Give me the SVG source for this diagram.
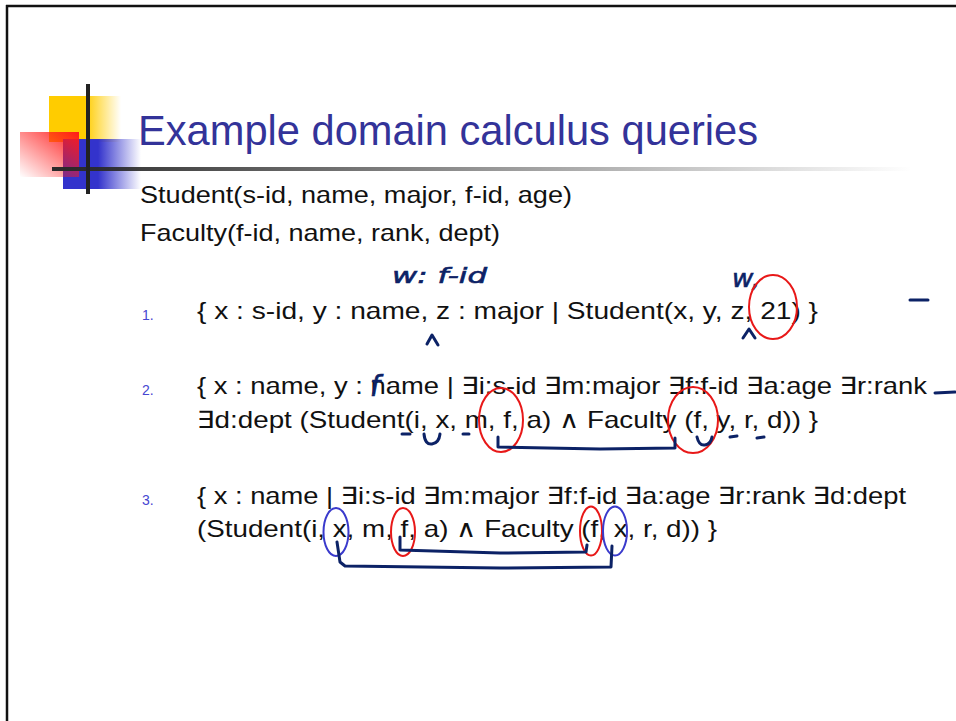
<svg xmlns="http://www.w3.org/2000/svg" width="956" height="721" viewBox="0 0 956 721">
  <defs>
    <linearGradient id="gYellow" x1="0" y1="0" x2="1" y2="0">
      <stop offset="0" stop-color="#ffcc00"/>
      <stop offset="0.5" stop-color="#ffcc00"/>
      <stop offset="1" stop-color="#ffcc00" stop-opacity="0"/>
    </linearGradient>
    <linearGradient id="gBlue" x1="0" y1="0" x2="1" y2="0">
      <stop offset="0" stop-color="#3333cc"/>
      <stop offset="0.45" stop-color="#3333cc"/>
      <stop offset="1" stop-color="#3333cc" stop-opacity="0"/>
    </linearGradient>
    <linearGradient id="gRed" x1="1" y1="0" x2="0" y2="1">
      <stop offset="0" stop-color="#ff1a1a"/>
      <stop offset="1" stop-color="#ff1a1a" stop-opacity="0"/>
    </linearGradient>
    <linearGradient id="gRule" x1="0" y1="0" x2="1" y2="0">
      <stop offset="0" stop-color="#2a2a2a"/>
      <stop offset="1" stop-color="#2a2a2a" stop-opacity="0"/>
    </linearGradient>
  </defs>
  <style>
    .body { font-family: "Liberation Sans", "DejaVu Sans", sans-serif; font-size: 24px; fill: #111; }
    .num { font-family: "Liberation Sans", sans-serif; font-size: 14px; fill: #4646d2; }
    .title { font-family: "Liberation Sans", sans-serif; font-size: 42px; fill: #333399; }
    .hand { font-family: "DejaVu Sans", sans-serif; font-style: italic; fill: #0c2266; stroke: #0c2266; stroke-width: 0.6; }
    .ink { fill: none; stroke: #0c2266; stroke-width: 3; stroke-linecap: round; stroke-linejoin: round; }
    .red { fill: none; stroke: #e81818; stroke-width: 2; }
    .blue { fill: none; stroke: #3a3acc; stroke-width: 2; }
  </style>

  <rect x="0" y="0" width="956" height="721" fill="#fff"/>
  <!-- slide frame -->
  <line x1="6" y1="6" x2="956" y2="6" stroke="#111" stroke-width="2.5"/>
  <line x1="7" y1="5" x2="7" y2="721" stroke="#111" stroke-width="2.5"/>

  <!-- title ornament -->
  <g id="ornament">
    <rect x="49" y="96" width="72" height="46" fill="url(#gYellow)"/>
    <rect x="63" y="139" width="78" height="50" fill="url(#gBlue)"/>
    <rect x="20" y="132" width="59" height="45" fill="url(#gRed)"/>
    <rect x="52" y="167" width="860" height="4" fill="url(#gRule)"/>
    <rect x="86" y="84" width="4" height="110" fill="#222"/>
  </g>

  <g id="title">
    <text class="title" x="138" y="145" textLength="620" lengthAdjust="spacingAndGlyphs">Example domain calculus queries</text>
  </g>

  <g id="schema">
    <text class="body" x="140" y="203" textLength="432" lengthAdjust="spacingAndGlyphs">Student(s-id, name, major, f-id, age)</text>
    <text class="body" x="140" y="241" textLength="360" lengthAdjust="spacingAndGlyphs">Faculty(f-id, name, rank, dept)</text>
  </g>

  <g id="query1">
    <text class="num" x="142" y="320">1.</text>
    <text class="body" x="197" y="319" textLength="621" lengthAdjust="spacingAndGlyphs">{ x : s-id, y : name, z : major | Student(x, y, z, 21) }</text>
  </g>

  <g id="query2">
    <text class="num" x="142" y="395">2.</text>
    <text class="body" x="197" y="394" textLength="730" lengthAdjust="spacingAndGlyphs">{ x : name, y : name | ∃i:s-id ∃m:major ∃f:f-id ∃a:age ∃r:rank</text>
    <text class="body" x="197" y="428" textLength="621" lengthAdjust="spacingAndGlyphs">∃d:dept (Student(i, x, m, f, a) ∧ Faculty (f, y, r, d)) }</text>
  </g>

  <g id="query3">
    <text class="num" x="142" y="505">3.</text>
    <text class="body" x="197" y="504" textLength="709" lengthAdjust="spacingAndGlyphs">{ x : name | ∃i:s-id ∃m:major ∃f:f-id ∃a:age ∃r:rank ∃d:dept</text>
    <text class="body" x="197" y="537" textLength="520" lengthAdjust="spacingAndGlyphs">(Student(i, x, m, f, a) ∧ Faculty (f, x, r, d)) }</text>
  </g>

  <!-- handwritten notes -->
  <g id="notes">
    <text class="hand" x="392" y="283" font-size="22" textLength="95" lengthAdjust="spacingAndGlyphs">w: f-id</text>
    <text class="hand" x="732" y="287" font-size="24" textLength="28" lengthAdjust="spacingAndGlyphs">w,</text>
    <text class="hand" x="370" y="396" font-size="28">f</text>
  </g>

  <!-- circled terms -->
  <g id="marks">
    <ellipse class="red" cx="773" cy="307" rx="24" ry="32"/>
    <ellipse class="red" cx="501" cy="420" rx="22" ry="32"/>
    <ellipse class="red" cx="693" cy="420" rx="25" ry="33"/>
    <ellipse class="blue" cx="336" cy="532" rx="12.5" ry="24"/>
    <ellipse class="red" cx="403" cy="532" rx="12" ry="24"/>
    <ellipse class="red" cx="591" cy="531" rx="11" ry="24.5"/>
    <ellipse class="blue" cx="615" cy="531" rx="12" ry="24.5"/>
  </g>

  <!-- ink strokes linking shared variables -->
  <g id="connectors">
    <path class="ink" d="M427 344 L432 335 L438 345"/>
    <path class="ink" d="M743 338 L749 329 L755 338"/>
    <path class="ink" d="M910 300 L928 300"/>
    <path class="ink" d="M935 393 L955 392"/>
    <path class="ink" d="M402 434 L410 434"/>
    <path class="ink" d="M424 434 Q425 445 432 444 Q439 443 440 434"/>
    <path class="ink" d="M463 434 L469 434"/>
    <path class="ink" d="M498 437 L498 447 L600 449 L675 448 L675 438"/>
    <path class="ink" d="M697 437 Q699 446 705 445 Q711 444 712 437"/>
    <path class="ink" d="M730 437 L737 436"/>
    <path class="ink" d="M757 438 L764 437"/>
    <path class="ink" d="M400 537 L400 550 L500 553 L586 552 L587 545"/>
    <path class="ink" d="M337 542 L340 562 L345 566 L500 568 L611 567 L612 546"/>
  </g>
</svg>
